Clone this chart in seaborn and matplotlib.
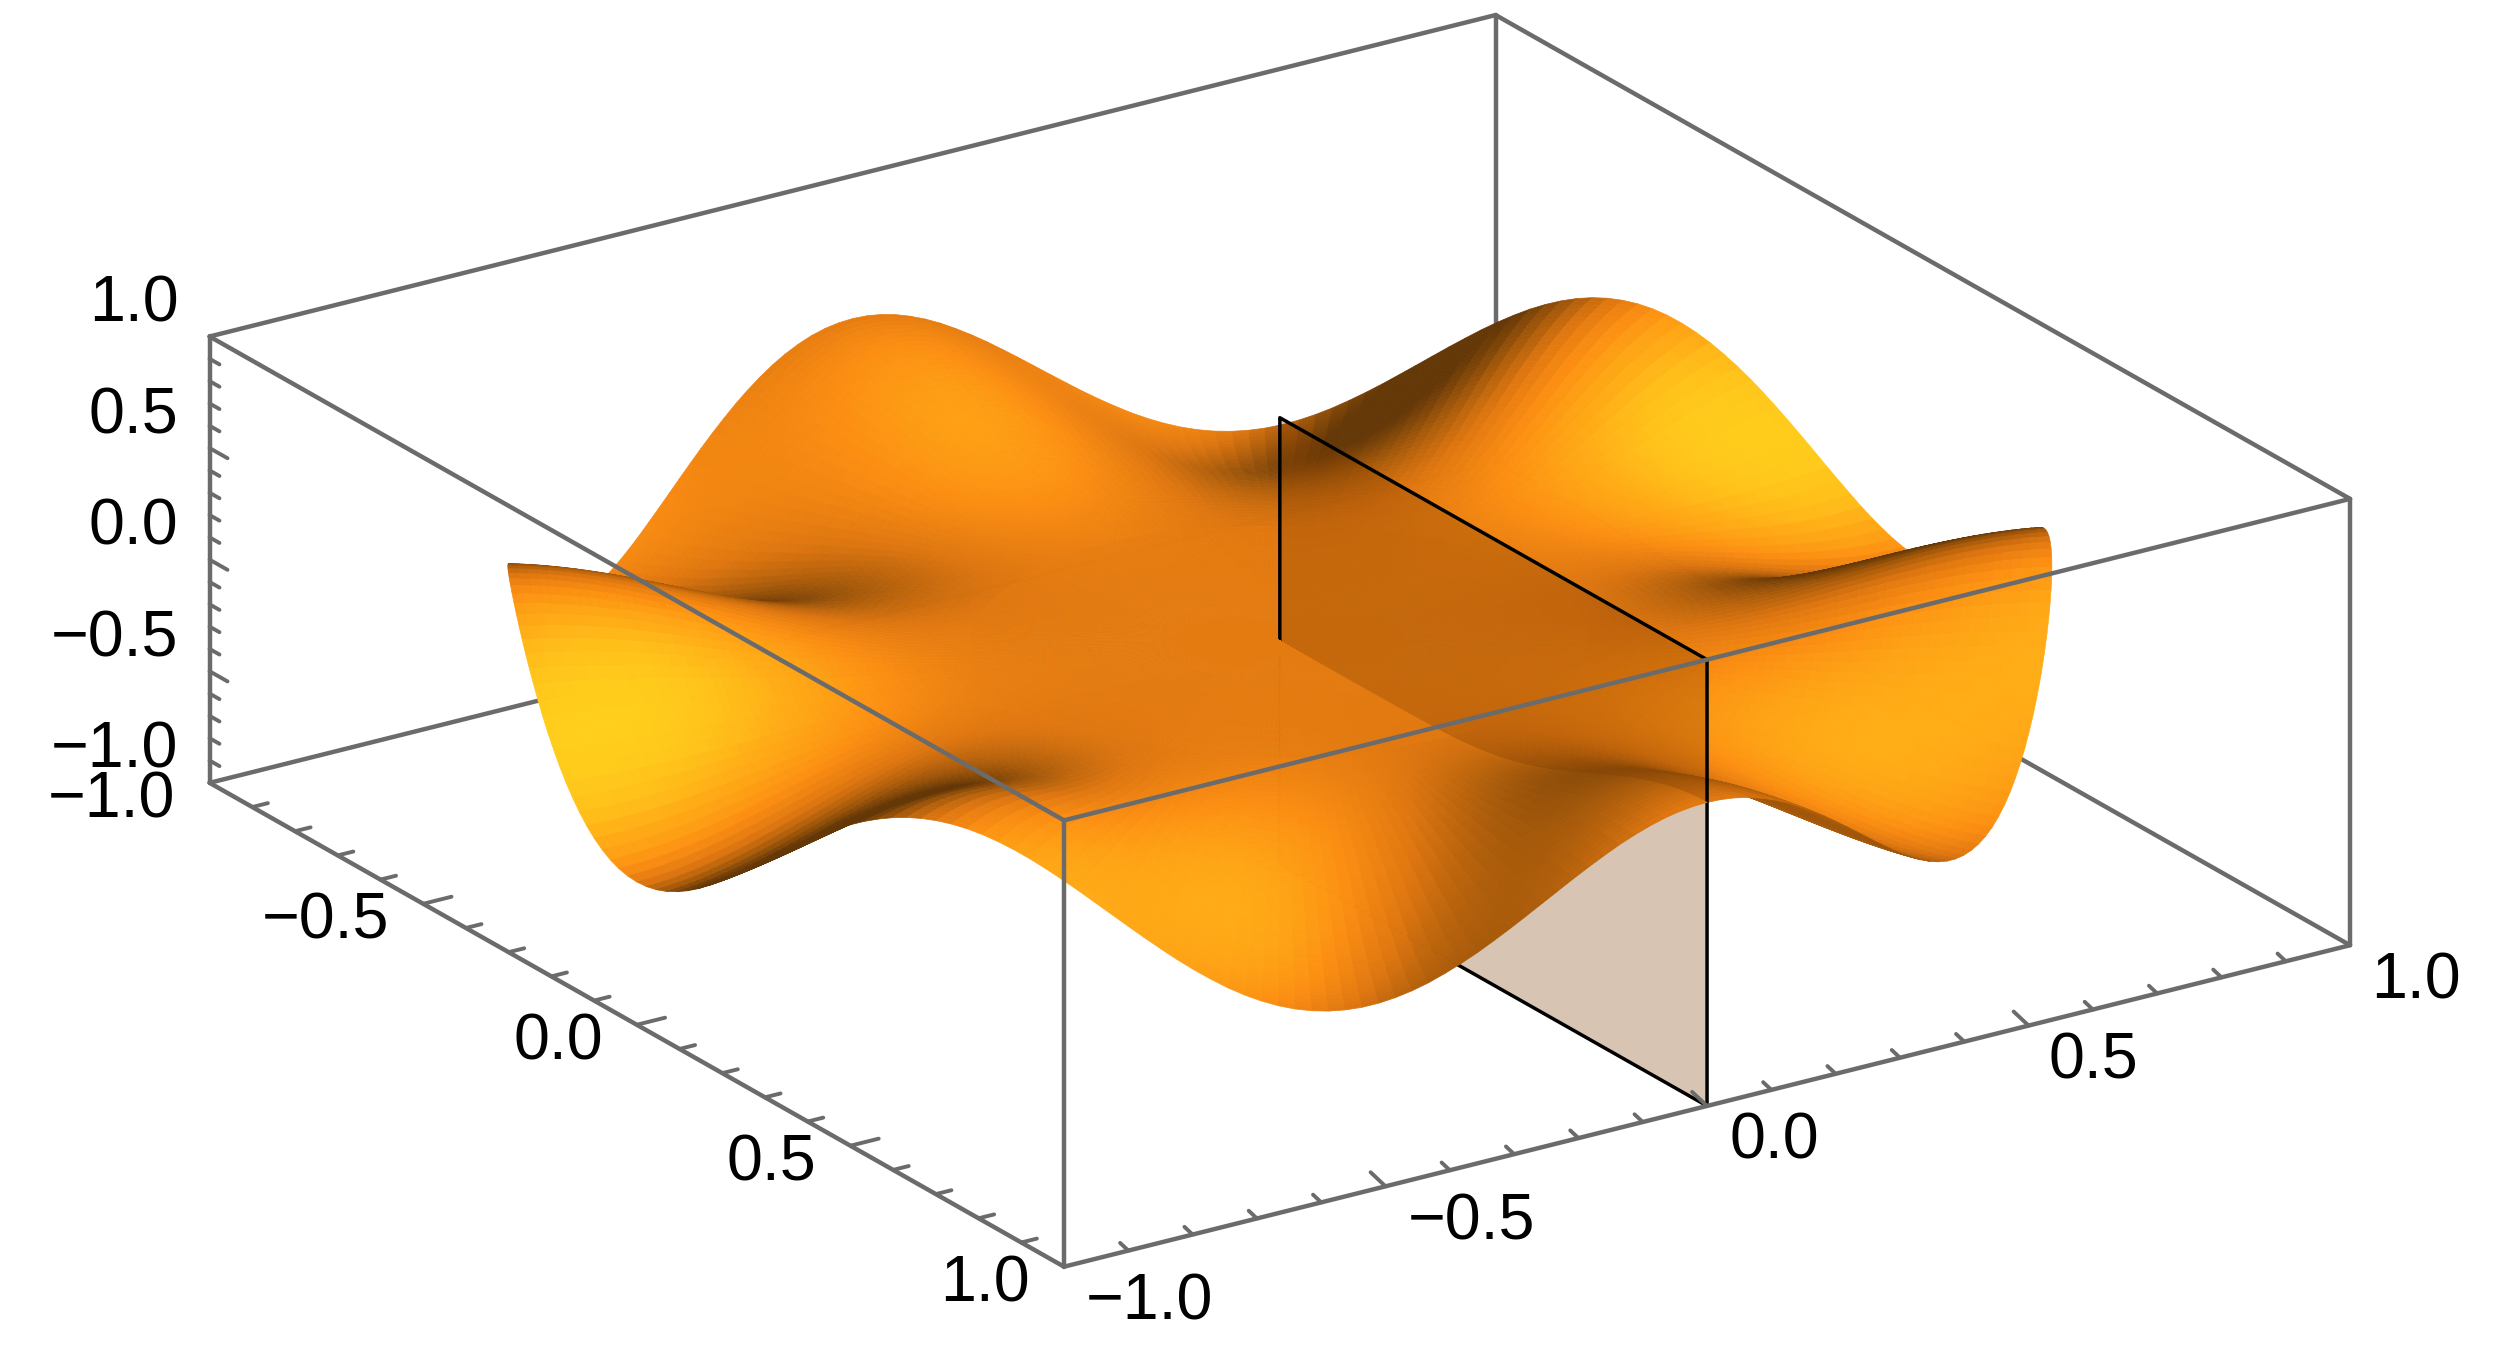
import numpy as np
import matplotlib
matplotlib.use("Agg")
import matplotlib.pyplot as plt
import seaborn as sns
from mpl_toolkits.mplot3d import proj3d
from mpl_toolkits.mplot3d.art3d import Poly3DCollection

# ---- values ----
radii = [0.000, 0.050, 0.100, 0.150, 0.200, 0.250, 0.300, 0.325, 0.350, 0.375,
         0.4000, 0.4125, 0.4250, 0.4375, 0.4500, 0.4625, 0.4750, 0.4875,
         0.5000, 0.5125, 0.5250, 0.5375, 0.5500, 0.5625, 0.5750, 0.5875,
         0.6000, 0.6125, 0.6250, 0.6375, 0.6500, 0.6625, 0.6750, 0.6875,
         0.7000, 0.7125, 0.7250, 0.7375, 0.7500, 0.7625, 0.7750, 0.7875,
         0.8000, 0.8125, 0.8250, 0.8375, 0.8500, 0.8625, 0.8750, 0.8875,
         0.9000, 0.9125, 0.9250, 0.9375, 0.9500, 0.9625, 0.9750, 0.9875, 1.0000]
ring_scale = [0.0000, 0.0000, 0.0000, 0.0002, 0.0006, 0.0016, 0.0040, 0.0058, 0.0086, 0.0122,
              0.0170, 0.0227, 0.0290, 0.0361, 0.0441, 0.0531, 0.0632, 0.0745,
              0.0871, 0.1011, 0.1165, 0.1333, 0.1515, 0.1711, 0.1921, 0.2145,
              0.2383, 0.2634, 0.2897, 0.3171, 0.3455, 0.3748, 0.4049, 0.4357,
              0.4671, 0.4989, 0.5310, 0.5632, 0.5953, 0.6271, 0.6585, 0.6893,
              0.7194, 0.7486, 0.7768, 0.8038, 0.8295, 0.8538, 0.8766, 0.8978,
              0.9173, 0.9350, 0.9508, 0.9646, 0.9763, 0.9858, 0.9930, 0.9978, 1.0000]
# rim height over one 60 degree lobe, every 1.25 degrees
rim_lobe = [0.360, 0.357, 0.348, 0.333, 0.312, 0.286, 0.255, 0.219, 0.180, 0.138, 0.093, 0.047,
            0.000, -0.047, -0.093, -0.138, -0.180, -0.219, -0.255, -0.286, -0.312, -0.333, -0.348, -0.357,
            -0.360, -0.357, -0.348, -0.333, -0.312, -0.286, -0.255, -0.219, -0.180, -0.138, -0.093, -0.047,
            0.000, 0.047, 0.093, 0.138, 0.180, 0.219, 0.255, 0.286, 0.312, 0.333, 0.348, 0.357]
n_lobes = 6
section_v = 0.0
section_u = [0.0, 1.0]
section_z = [-1.0, 1.0]
major_ticks = [-1.0, -0.5, 0.0, 0.5, 1.0]
tick_labels = ["\u22121.0", "\u22120.5", "0.0", "0.5", "1.0"]
minor_ticks = [-0.9, -0.8, -0.7, -0.6, -0.4, -0.3, -0.2, -0.1, 0.1, 0.2, 0.3, 0.4, 0.6, 0.7, 0.8, 0.9]

GRAY = "#6b6b6b"
W, H = 2500, 1352
sns.set_theme(style="white")
plt.rcParams["font.family"] = ["Liberation Sans", "DejaVu Sans"]

fig = plt.figure(figsize=(W / 100, H / 100), dpi=100, facecolor="white")
ax = fig.add_axes([0, 0, 1, W / H], projection="3d", proj_type="ortho", computed_zorder=False)
ELEV, AZIM = 22.1, -33.6
ax.view_init(elev=ELEV, azim=AZIM)
ax.set_xlim(-1, 1, view_margin=0)
ax.set_ylim(-1, 1, view_margin=0)
ax.set_zlim(-1, 1, view_margin=0)
ax.set_box_aspect((1, 1, 0.312))
ax.set_axis_off()
ax.patch.set_alpha(0)

# fit the box onto the reference corners (pixels, y down)
corners3 = [(-1, -1, -1), (-1, -1, 1), (1, -1, -1), (1, -1, 1), (1, 1, -1), (1, 1, 1), (-1, 1, 1)]
target = np.array([(210.5, 781), (210.5, 338), (1063, 1267), (1063, 824), (2351, 940.5), (2351, 499), (1494, 16)], float)
target[:, 1] = H - target[:, 1]

def to_px():
    M = ax.get_proj()
    pts = [proj3d.proj_transform(*c, M)[:2] for c in corners3]
    ax.apply_aspect()
    return ax.transData.transform(pts)

side = float(H)
pos = np.array([0.0, 0.0])
for _ in range(3):
    ax.set_position([pos[0] / W, pos[1] / H, side / W, side / H])
    p = to_px()
    side *= np.ptp(target[:, 0]) / np.ptp(p[:, 0])
    ax.set_position([pos[0] / W, pos[1] / H, side / W, side / H])
    p = to_px()
    pos = pos + (target - p).mean(axis=0)
ax.set_position([pos[0] / W, pos[1] / H, side / W, side / H])
ax.apply_aspect()

# ---- surface table ----
r = np.array(radii)
rim = np.tile(np.array(rim_lobe), n_lobes)
rim = np.append(rim, rim[0])
Z = np.outer(np.array(ring_scale), rim)
t = np.deg2rad(np.arange(rim.size) * 360 / (rim.size - 1))
X = np.outer(r, np.cos(t))
Y = np.outer(r, np.sin(t))

# shading from face normals, light to the right of the viewer
asp = 0.312
d1 = np.stack([X[1:, 1:] - X[:-1, :-1], Y[1:, 1:] - Y[:-1, :-1], (Z[1:, 1:] - Z[:-1, :-1]) * asp], -1)
d2 = np.stack([X[1:, :-1] - X[:-1, 1:], Y[1:, :-1] - Y[:-1, 1:], (Z[1:, :-1] - Z[:-1, 1:]) * asp], -1)
n = np.cross(d1, d2)
n /= np.linalg.norm(n, axis=-1, keepdims=True) + 1e-12
n *= np.sign(n[..., 2:3] + 1e-12)
a = np.deg2rad(AZIM)
Rt = np.array([-np.sin(a), np.cos(a), 0.0])
Fr = np.array([np.cos(a), np.sin(a), 0.0])
Up = np.array([0.0, 0.0, 1.0])
L = 0.55 * Rt + 0.88 * Fr + 0.43 * Up
shade = np.clip((n @ L) / 0.98, 0, 1)
cmap = sns.blend_palette(["#643706", "#a5590a", "#de7610", "#fc8e12", "#ffac16", "#ffda1e"], n_colors=256, as_cmap=True)
fc = cmap(shade)

mid = (rim.size - 1) // 2
kw = dict(rstride=1, cstride=1, shade=False, linewidth=0.5, antialiased=True)

def box(a0, b0, z_order):
    ax.plot(*zip(a0, b0), color=GRAY, lw=3.2, zorder=z_order, solid_capstyle="round")

lo, hi = -1, 1
# back edges
for s, f in [((lo, lo, hi), (lo, hi, hi)), ((lo, hi, hi), (hi, hi, hi)), ((lo, hi, lo), (lo, hi, hi)),
             ((lo, lo, lo), (lo, hi, lo)), ((lo, hi, lo), (hi, hi, lo))]:
    box(s, f, 1)

ax.plot_surface(X[:, :mid + 1], Y[:, :mid + 1], Z[:, :mid + 1], facecolors=fc[:, :mid], zorder=2, **kw)

u0, u1 = section_u
z0, z1 = section_z
plane = [[(u0, section_v, z0), (u1, section_v, z0), (u1, section_v, z1), (u0, section_v, z1)]]
ax.add_collection3d(Poly3DCollection(plane, facecolors=[(128 / 255, 60 / 255, 0, 0.3)], edgecolors="none", zorder=3))
ax.plot([u0, u1, u1, u0, u0], [section_v] * 5, [z0, z0, z1, z1, z0], color="black", lw=2.5, zorder=4)

ax.plot_surface(X[:, mid:], Y[:, mid:], Z[:, mid:], facecolors=fc[:, mid:], zorder=5, **kw)

# front edges
for s, f in [((lo, lo, hi), (hi, lo, hi)), ((hi, lo, hi), (hi, hi, hi)), ((lo, lo, lo), (hi, lo, lo)),
             ((hi, lo, lo), (hi, hi, lo)), ((lo, lo, lo), (lo, lo, hi)), ((hi, lo, lo), (hi, lo, hi)),
             ((hi, hi, lo), (hi, hi, hi))]:
    box(s, f, 6)

# ticks
for vals, scale in [(major_ticks[1:-1], 1.0), (minor_ticks, 0.55)]:
    for q in vals:
        ax.plot([q, q], [-1, -1 + 0.044 * scale], [-1, -1], color=GRAY, lw=2.8, zorder=6)                     # x axis
        ax.plot([1, 1 - 0.035 * scale], [q, q], [-1, -1 + 0.025 * scale], color=GRAY, lw=2.8, zorder=6)       # y axis
        ax.plot([-1, -1 + 0.042 * scale], [-1, -1], [q, q], color=GRAY, lw=2.8, zorder=6)                     # z axis

FS = 46.5
M = ax.get_proj()

def label(x, y, z, txt, dx, dy, ha):
    px, py, _ = proj3d.proj_transform(x, y, z, M)
    ax.annotate(txt, xy=(px, py), xycoords="data", xytext=(dx, dy), textcoords="offset pixels", ha=ha, va="center",
                fontsize=FS, color="black", annotation_clip=False, zorder=10)

for q, txt in zip(major_ticks, tick_labels):
    label(-1, -1, q, txt, -31, 32, "right")
    label(q, -1, -1, txt, -34, -18, "right")
    dx = {-1.0: 85, -0.5: 86, 0.0: 67, 0.5: 65, 1.0: 66}[q]
    label(1, q, -1, txt, dx, -36, "center")

for art in ax.get_children():
    art.set_clip_on(False)

fig.savefig("out.png", dpi=100, facecolor="white")
